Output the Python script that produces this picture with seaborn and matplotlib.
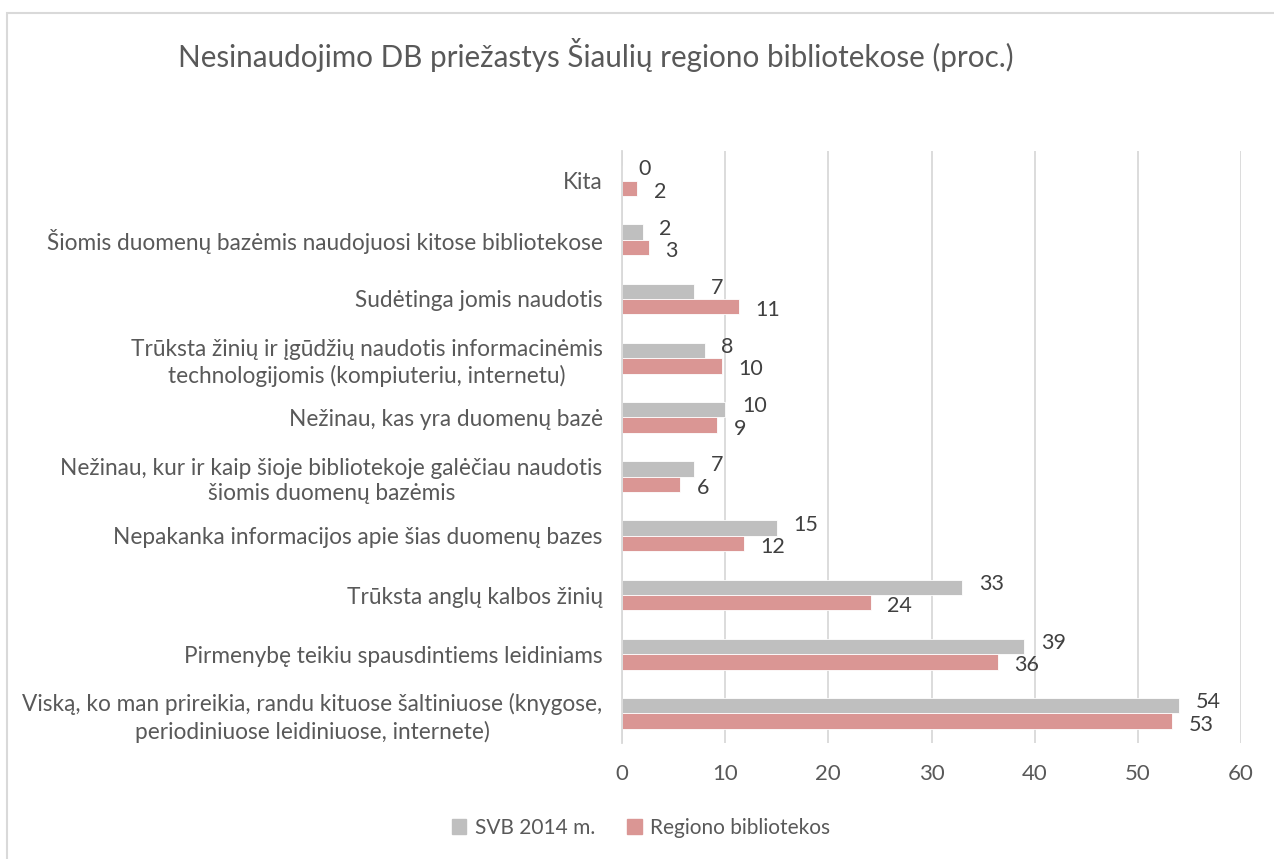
import pandas as pd
import matplotlib
matplotlib.use("Agg")
import matplotlib.pyplot as plt
import matplotlib.patches as mpatches
import seaborn as sns

# Categories, top to bottom as in the chart
categories = [
    "Kita",
    "Šiomis duomenų bazėmis naudojuosi kitose bibliotekose",
    "Sudėtinga jomis naudotis",
    "Trūksta žinių ir įgūdžių naudotis informacinėmis\ntechnologijomis (kompiuteriu, internetu)",
    "Nežinau, kas yra duomenų bazė",
    "Nežinau, kur ir kaip šioje bibliotekoje galėčiau naudotis\nšiomis duomenų bazėmis",
    "Nepakanka informacijos apie šias duomenų bazes",
    "Trūksta anglų kalbos žinių",
    "Pirmenybę teikiu spausdintiems leidiniams",
    "Viską, ko man prireikia, randu kituose šaltiniuose (knygose,\nperiodiniuose leidiniuose, internete)",
]
svb_2014 = [0, 2, 7, 8, 10, 7, 15, 33, 39, 54]
regiono = [1.5, 2.6, 11.3, 9.7, 9.2, 5.6, 11.8, 24.1, 36.4, 53.3]
series_names = ["SVB 2014 m.", "Regiono bibliotekos"]
colors = ["#BFBFBF", "#DA9694"]
x_ticks = [0, 10, 20, 30, 40, 50, 60]

df = pd.DataFrame({
    "Priežastis": categories * 2,
    "Proc.": svb_2014 + regiono,
    "Serija": [series_names[0]] * len(categories) + [series_names[1]] * len(categories),
})

sns.set_theme(style="whitegrid")
plt.rcParams["font.family"] = ["Lato", "DejaVu Sans"]

W, H = 1274, 859
fig = plt.figure(figsize=(W / 100, H / 100), dpi=100)
fig.patch.set_facecolor("white")

# light chart-area border like the Excel frame
fig.add_artist(mpatches.Rectangle((7 / W, -0.1), 1.2, 1 - 13 / H + 0.1,
                                  transform=fig.transFigure, fill=False,
                                  edgecolor="#D9D9D9", linewidth=1.5))

ax = fig.add_axes([622 / W, 1 - 743 / H, (1241 - 622) / W, (743 - 151) / H])

sns.barplot(data=df, y="Priežastis", x="Proc.", hue="Serija",
            hue_order=series_names, palette=colors, orient="h",
            width=0.52, dodge=True, edgecolor="white", linewidth=0.6,
            saturation=1, legend=False, ax=ax)

# data labels: gray ones nudged up, red ones nudged down a little
for container, dy in zip(ax.containers, [2.5, -2.5]):
    labels = ax.bar_label(container, fmt="%.0f", padding=12, fontsize=15.5, color="#404040")
    for lab in labels:
        lab.xyann = (12, dy)

ax.set_xlim(0, 60)
ax.set_xticks(x_ticks)
ax.set_xlabel("")
ax.set_ylabel("")
ax.grid(axis="x", color="#D9D9D9", linewidth=1.3)
ax.grid(axis="y", visible=False)
for side in ["top", "right", "bottom"]:
    ax.spines[side].set_visible(False)
ax.spines["left"].set_color("#D9D9D9")
ax.spines["left"].set_linewidth(1.3)
ax.tick_params(axis="x", labelsize=16, labelcolor="#595959", pad=15, length=0)
ax.tick_params(axis="y", labelsize=16.3, labelcolor="#595959", pad=14, length=0)
for lbl in ax.get_yticklabels():
    lbl.set_multialignment("center")
    lbl.set_linespacing(1.28)

fig.text(596 / W, 1 - 55 / H,
         "Nesinaudojimo DB priežastys Šiaulių regiono bibliotekose (proc.)",
         ha="center", va="center", fontsize=21.3, color="#595959")

handles = [mpatches.Patch(color=c, label=n) for c, n in zip(colors, series_names)]
fig.legend(handles=handles, loc="center", bbox_to_anchor=(641 / W, 1 - 828 / H),
           ncol=2, frameon=False, fontsize=15, handlelength=0.7, handleheight=0.7,
           handletextpad=0.4, columnspacing=1.55, labelcolor="#595959")

plt.savefig("out.png", dpi=100)
